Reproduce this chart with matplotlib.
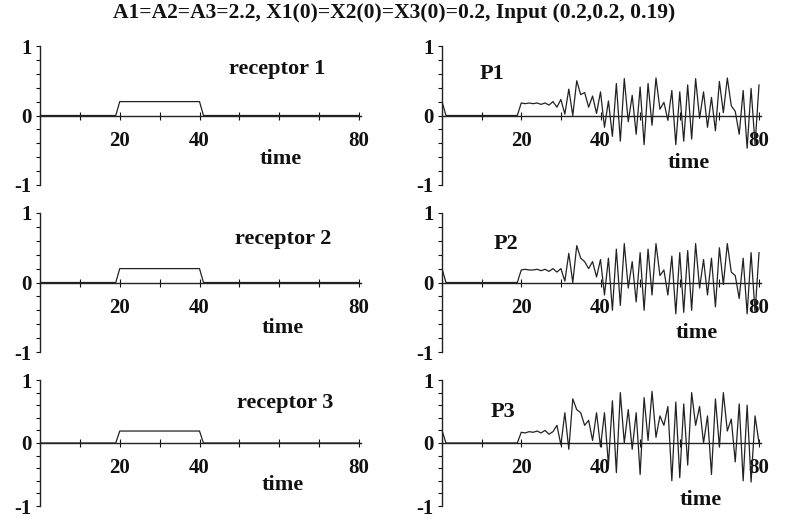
import numpy as np
import matplotlib
matplotlib.use("Agg")
import matplotlib.pyplot as plt

# ---------------- data (one sample per time unit) -------------
receptor1 = [0, 0, 0, 0, 0, 0, 0, 0, 0, 0, 0, 0, 0, 0, 0, 0, 0, 0, 0, 0,
             0.2, 0.2, 0.2, 0.2, 0.2, 0.2, 0.2, 0.2, 0.2, 0.2, 0.2, 0.2, 0.2, 0.2, 0.2, 0.2, 0.2, 0.2, 0.2, 0.2, 0.2,
             0, 0, 0, 0, 0, 0, 0, 0, 0, 0, 0, 0, 0, 0, 0, 0, 0, 0, 0, 0,
             0, 0, 0, 0, 0, 0, 0, 0, 0, 0, 0, 0, 0, 0, 0, 0, 0, 0, 0, 0]
receptor2 = [0, 0, 0, 0, 0, 0, 0, 0, 0, 0, 0, 0, 0, 0, 0, 0, 0, 0, 0, 0,
             0.2, 0.2, 0.2, 0.2, 0.2, 0.2, 0.2, 0.2, 0.2, 0.2, 0.2, 0.2, 0.2, 0.2, 0.2, 0.2, 0.2, 0.2, 0.2, 0.2, 0.2,
             0, 0, 0, 0, 0, 0, 0, 0, 0, 0, 0, 0, 0, 0, 0, 0, 0, 0, 0, 0,
             0, 0, 0, 0, 0, 0, 0, 0, 0, 0, 0, 0, 0, 0, 0, 0, 0, 0, 0, 0]
receptor3 = [0, 0, 0, 0, 0, 0, 0, 0, 0, 0, 0, 0, 0, 0, 0, 0, 0, 0, 0, 0,
             0.19, 0.19, 0.19, 0.19, 0.19, 0.19, 0.19, 0.19, 0.19, 0.19, 0.19, 0.19, 0.19, 0.19, 0.19, 0.19, 0.19,
             0.19, 0.19, 0.19, 0.19,
             0, 0, 0, 0, 0, 0, 0, 0, 0, 0, 0, 0, 0, 0, 0, 0, 0, 0, 0, 0,
             0, 0, 0, 0, 0, 0, 0, 0, 0, 0, 0, 0, 0, 0, 0, 0, 0, 0, 0, 0]

P1 = [0.2, 0, 0, 0, 0, 0, 0, 0, 0, 0, 0, 0, 0, 0, 0, 0, 0, 0, 0, 0,
      0.18, 0.17, 0.18, 0.17, 0.18, 0.16, 0.18, 0.15, 0.2,
      0.12, 0.23, 0.02, 0.38, 0.0, 0.5, 0.3, 0.33, 0.12, 0.28, 0.03,
      0.34, -0.17, 0.21, -0.3, 0.46, -0.37, 0.53, -0.09, 0.29, -0.27,
      0.41, -0.42, 0.46, -0.14, 0.54, 0.09, 0.19, -0.07, 0.36, -0.42,
      0.34, -0.37, 0.44, -0.34, 0.53, -0.04, 0.34, -0.17, 0.26, -0.22,
      0.49, 0.04, 0.54, 0.14, 0.06, -0.27, 0.36, -0.47, 0.39, -0.42, 0.44]

P2 = [0.2, 0, 0, 0, 0, 0, 0, 0, 0, 0, 0, 0, 0, 0, 0, 0, 0, 0, 0, 0,
      0.18, 0.19, 0.18, 0.18, 0.19, 0.17, 0.19, 0.16, 0.2,
      0.15, 0.2, 0.02, 0.42, 0.0, 0.53, 0.35, 0.3, 0.2, 0.3, 0.08,
      0.33, -0.18, 0.35, -0.4, 0.48, -0.33, 0.56, -0.08, 0.3, -0.28,
      0.43, -0.4, 0.48, -0.18, 0.56, 0.1, 0.18, -0.18, 0.38, -0.45,
      0.43, -0.43, 0.46, -0.4, 0.56, -0.08, 0.33, -0.18, 0.35, -0.35,
      0.5, -0.03, 0.56, 0.15, 0.1, -0.23, 0.35, -0.45, 0.43, -0.43, 0.43]

P3 = [0.2, 0, 0, 0, 0, 0, 0, 0, 0, 0, 0, 0, 0, 0, 0, 0, 0, 0, 0, 0,
      0.17, 0.16, 0.18, 0.17, 0.19, 0.16, 0.2, 0.14, 0.18,
      0.28, -0.03, 0.48, -0.1, 0.7, 0.53, 0.48, 0.28, 0.36, 0.04,
      0.48, -0.06, 0.48, -0.35, 0.67, -0.47, 0.8, 0.0, 0.53, -0.1,
      0.48, -0.5, 0.72, 0.04, 0.82, 0.09, 0.43, 0.28, 0.58, -0.6,
      0.65, -0.55, 0.62, -0.35, 0.8, 0.28, 0.58, 0.0, 0.43, -0.5,
      0.7, -0.06, 0.8, 0.19, 0.38, -0.3, 0.62, -0.6, 0.6, -0.62, 0.43, 0.0]

xtick_values = [0, 10, 20, 30, 40, 50, 60, 70, 80]
xtick_labels = ["", "", "20", "", "40", "", "", "", "80"]
ytick_values = [-1, -0.8, -0.6, -0.4, -0.2, 0, 0.2, 0.4, 0.6, 0.8, 1]
ytick_labels = ["-1", "", "", "", "", "0", "", "", "", "", "1"]

title = "A1=A2=A3=2.2, X1(0)=X2(0)=X3(0)=0.2, Input (0.2,0.2, 0.19)"

# ---------------- layout ----------------
W, H = 788, 522
fig = plt.figure(figsize=(W / 100, H / 100), dpi=100)
plt.rcParams['font.family'] = ['Liberation Serif', 'DejaVu Serif']

def px_axes(x0, x1, ytop, ybot):
    return fig.add_axes([x0 / W, 1 - ybot / H, (x1 - x0) / W, (ybot - ytop) / H])

rows = [(46, 185), (213, 352), (380, 506)]
left_x = (40, 361)
right_x = (442, 761)

left_series = [receptor1, receptor2, receptor3]
right_series = [P1, P2, P3]
left_names = ["receptor 1", "receptor 2", "receptor 3"]
right_names = ["P1", "P2", "P3"]
left_name_pos = [(47.4, 0.67), (49, 0.63), (49.4, 0.63)]
right_name_pos = [(9.5, 0.59), (13, 0.55), (12.3, 0.49)]
left_time_pos = [(55, -0.62), (55.5, -0.65), (55.5, -0.66)]
right_time_pos = [(57, -0.68), (59, -0.72), (60, -0.9)]

fontkw = dict(fontweight='bold', fontsize=16, color='#111111', va='center', ha='left')

def style(ax):
    ax.set_xlim(0, 80.5)
    ax.set_ylim(-1, 1)
    for s in ['top', 'right']:
        ax.spines[s].set_visible(False)
    ax.spines['bottom'].set_position(('data', 0))
    ax.spines['bottom'].set_color('#222222')
    ax.spines['left'].set_color('#222222')
    ax.spines['bottom'].set_linewidth(1.0)
    ax.spines['left'].set_linewidth(1.0)
    ax.set_xticks(xtick_values)
    ax.set_xticklabels(xtick_labels, fontweight='bold', fontsize=15)
    ax.set_yticks(ytick_values)
    ax.set_yticklabels(ytick_labels, fontweight='bold', fontsize=15)
    ax.tick_params(axis='x', direction='inout', length=6, width=0.8, pad=8, colors='#111111')
    ax.tick_params(axis='y', direction='out', length=3, width=0.8, pad=3, colors='#111111')
    ax.patch.set_alpha(0)

for i, (yt, yb) in enumerate(rows):
    t = np.arange(len(left_series[i]))
    ax = px_axes(left_x[0], left_x[1], yt, yb)
    style(ax)
    ax.plot(t, left_series[i], color='#222222', lw=0.9)
    ax.text(*left_name_pos[i], left_names[i], **fontkw)
    ax.text(*left_time_pos[i], "time", **fontkw)

    t2 = np.arange(len(right_series[i]))
    ax2 = px_axes(right_x[0], right_x[1], yt, yb)
    style(ax2)
    ax2.plot(t2, right_series[i], color='#222222', lw=0.9)
    ax2.text(*right_name_pos[i], right_names[i], **fontkw)
    ax2.text(*right_time_pos[i], "time", **fontkw)

fig.text(0.5, 1 - 13 / H, title, ha='center', va='center', fontsize=15.5, fontweight='bold', color='#111111')

fig.savefig("out.png", dpi=100)
